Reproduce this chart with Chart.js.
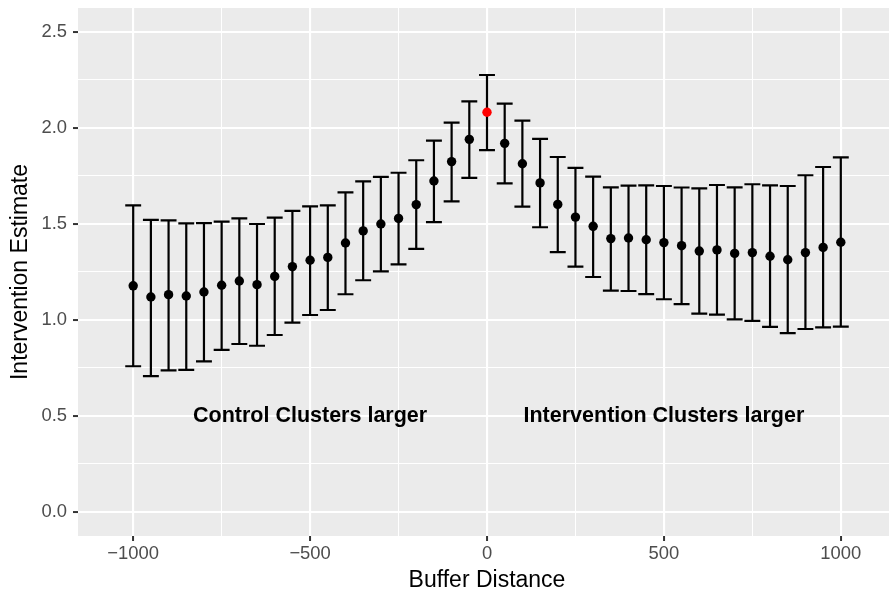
<!DOCTYPE html>
<html>
<head>
<meta charset="utf-8">
<title>Intervention estimate by buffer distance</title>
<script src="https://cdn.jsdelivr.net/npm/chart.js@4"></script>
<style>
  html, body { margin: 0; padding: 0; background: #fff; overflow: hidden; }
  #wrap { width: 889px; height: 595px; overflow: hidden; }
  #wrap canvas { display: block; }
</style>
</head>
<body>
<div id="wrap"><canvas id="chart" width="896" height="595"></canvas></div>
<script>
// buffer distances (m) and the estimate with its confidence interval at each one
const distances = [-1000, -950, -900, -850, -800, -750, -700, -650, -600, -550, -500,
  -450, -400, -350, -300, -250, -200, -150, -100, -50, 0,
  50, 100, 150, 200, 250, 300, 350, 400, 450, 500,
  550, 600, 650, 700, 750, 800, 850, 900, 950, 1000];
const estimates = [1.178, 1.120, 1.132, 1.125, 1.146, 1.181, 1.203, 1.184, 1.227, 1.278, 1.311,
  1.326, 1.401, 1.464, 1.500, 1.529, 1.601, 1.724, 1.825, 1.941, 2.082,
  1.920, 1.814, 1.714, 1.602, 1.536, 1.488, 1.424, 1.427, 1.418, 1.403,
  1.387, 1.359, 1.365, 1.347, 1.351, 1.332, 1.314, 1.351, 1.378, 1.405];
const lowerCI = [0.759, 0.708, 0.738, 0.740, 0.785, 0.844, 0.875, 0.866, 0.922, 0.986, 1.026,
  1.052, 1.134, 1.207, 1.253, 1.290, 1.370, 1.510, 1.618, 1.740, 1.885,
  1.712, 1.590, 1.483, 1.353, 1.278, 1.224, 1.153, 1.151, 1.135, 1.108,
  1.083, 1.033, 1.028, 1.003, 0.995, 0.964, 0.932, 0.953, 0.962, 0.965];
const upperCI = [1.597, 1.521, 1.519, 1.503, 1.505, 1.512, 1.529, 1.500, 1.533, 1.568, 1.592,
  1.597, 1.665, 1.722, 1.745, 1.767, 1.832, 1.934, 2.028, 2.139, 2.276,
  2.127, 2.038, 1.943, 1.849, 1.792, 1.747, 1.691, 1.700, 1.701, 1.698,
  1.690, 1.686, 1.703, 1.691, 1.707, 1.701, 1.698, 1.754, 1.797, 1.847];
const highlightDistance = 0;

const xTicks = [-1000, -500, 0, 500, 1000];
const xMinorTicks = [-750, -250, 250, 750];
const yTicks = [0, 0.5, 1, 1.5, 2, 2.5];
const yMinorTicks = [0.25, 0.75, 1.25, 1.75, 2.25];

const labels = [
  {x: -500, y: 0.5, text: 'Control Clusters larger'},
  {x: 500, y: 0.5, text: 'Intervention Clusters larger'}
];

const FONT = "'Liberation Sans', Arial, sans-serif";
const CAP_WIDTH = 45; // errorbar cap width, in distance units

const isMajor = (list, v) => list.some(t => Math.abs(t - v) < 1e-9);
const fmtX = v => (v < 0 ? '\u2212' + Math.abs(v) : String(v));

// grey ggplot-style panel behind everything
const panelBackground = {
  id: 'panelBackground',
  beforeDraw(chart) {
    const {ctx, chartArea: a} = chart;
    ctx.save();
    ctx.fillStyle = '#EBEBEB';
    ctx.fillRect(a.left, a.top, a.right - a.left, a.bottom - a.top);
    ctx.restore();
  }
};

// vertical interval with caps, drawn under the points
const errorBars = {
  id: 'errorBars',
  beforeDatasetsDraw(chart) {
    const {ctx, scales: {x, y}} = chart;
    ctx.save();
    ctx.strokeStyle = '#000';
    ctx.lineWidth = 2.2;
    distances.forEach((d, i) => {
      const px = x.getPixelForValue(d);
      const left = x.getPixelForValue(d - CAP_WIDTH / 2);
      const right = x.getPixelForValue(d + CAP_WIDTH / 2);
      const top = y.getPixelForValue(upperCI[i]);
      const bottom = y.getPixelForValue(lowerCI[i]);
      ctx.beginPath();
      ctx.moveTo(px, top);
      ctx.lineTo(px, bottom);
      ctx.moveTo(left, top);
      ctx.lineTo(right, top);
      ctx.moveTo(left, bottom);
      ctx.lineTo(right, bottom);
      ctx.stroke();
    });
    ctx.restore();
  }
};

const textLabels = {
  id: 'textLabels',
  afterDatasetsDraw(chart) {
    const {ctx, scales: {x, y}} = chart;
    ctx.save();
    ctx.fillStyle = '#000';
    ctx.font = 'bold 21.5px ' + FONT;
    ctx.textAlign = 'center';
    ctx.textBaseline = 'middle';
    labels.forEach(l => ctx.fillText(l.text, x.getPixelForValue(l.x), y.getPixelForValue(l.y)));
    ctx.restore();
  }
};

new Chart(document.getElementById('chart'), {
  type: 'scatter',
  data: {
    datasets: [{
      data: distances.map((d, i) => ({x: d, y: estimates[i]})),
      pointRadius: 4.7,
      pointHoverRadius: 4.7,
      pointBorderWidth: 0,
      pointBackgroundColor: distances.map(d => (d === highlightDistance ? '#FF0000' : '#000000')),
      pointBorderColor: 'rgba(0,0,0,0)'
    }]
  },
  options: {
    responsive: false,
    animation: false,
    layout: {autoPadding: false, padding: {top: 8, right: 0, bottom: 0, left: 0}},
    plugins: {legend: {display: false}, tooltip: {enabled: false}},
    scales: {
      x: {
        type: 'linear',
        min: -1156,
        max: 1156,
        afterBuildTicks: s => {
          s.ticks = [...xTicks, ...xMinorTicks].sort((a, b) => a - b).map(v => ({value: v}));
        },
        afterFit: s => {
          s.height = 59;
          s.paddingLeft = 0;
          s.paddingRight = 0;
        },
        border: {display: false},
        grid: {
          color: '#FFFFFF',
          lineWidth: c => (isMajor(xTicks, c.tick.value) ? 2.1 : 1.05),
          tickColor: c => (isMajor(xTicks, c.tick.value) ? '#333333' : 'rgba(0,0,0,0)'),
          tickWidth: 2,
          tickLength: 5
        },
        ticks: {
          autoSkip: false,
          maxRotation: 0,
          padding: 2,
          color: '#4D4D4D',
          font: {family: FONT, size: 18.4},
          callback: v => (isMajor(xTicks, v) ? fmtX(v) : '')
        },
        title: {
          display: true,
          text: 'Buffer Distance',
          color: '#000',
          font: {family: FONT, size: 23},
          padding: {top: 0, bottom: 1}
        }
      },
      y: {
        type: 'linear',
        min: -0.125,
        max: 2.625,
        afterBuildTicks: s => {
          s.ticks = [...yTicks, ...yMinorTicks].sort((a, b) => a - b).map(v => ({value: v}));
        },
        afterFit: s => {
          s.width = 78;
          s.paddingTop = 0;
          s.paddingBottom = 0;
        },
        border: {display: false},
        grid: {
          color: '#FFFFFF',
          lineWidth: c => (isMajor(yTicks, c.tick.value) ? 2.1 : 1.05),
          tickColor: c => (isMajor(yTicks, c.tick.value) ? '#333333' : 'rgba(0,0,0,0)'),
          tickWidth: 2,
          tickLength: 5
        },
        ticks: {
          autoSkip: false,
          padding: 6,
          color: '#4D4D4D',
          font: {family: FONT, size: 18.4},
          callback: v => (isMajor(yTicks, v) ? v.toFixed(1) : '')
        },
        title: {
          display: true,
          text: 'Intervention Estimate',
          color: '#000',
          font: {family: FONT, size: 23},
          padding: {top: 7, bottom: 0}
        }
      }
    }
  },
  plugins: [panelBackground, errorBars, textLabels]
});
</script>
</body>
</html>
